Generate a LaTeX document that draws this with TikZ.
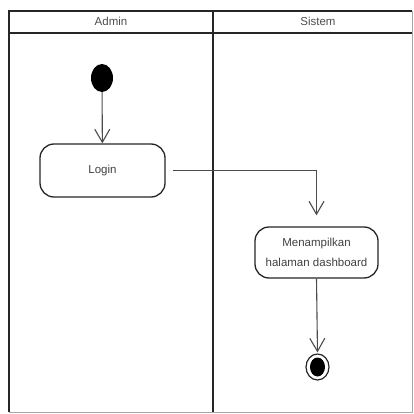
\documentclass[tikz,border=0pt]{standalone}
\usepackage{fontspec}
\setmainfont{Liberation Sans}
\usetikzlibrary{arrows.meta,shapes.geometric}
\begin{document}
\begin{tikzpicture}[x=1pt,y=-1pt,
  frame/.style={line width=1.6pt, black!85},
  act/.style={draw=black!85, line width=1.3pt, rounded corners=14pt, fill=white, align=center, font=\fontsize{11.5}{20}\selectfont, text=black!75, inner sep=0pt},
  conn/.style={draw=black!70, line width=1.1pt, -{Straight Barb[length=13pt,width=15pt,line width=1.1pt]}},
  lane/.style={font=\fontsize{11.5}{14}\selectfont, text=black!70}]
\useasboundingbox (0,0) rectangle (414,414);
% swimlane frame
\draw[frame] (412,11) -- (9,11) -- (9,412);
\draw[line width=1pt, black!35] (9,412.5) -- (412,412.5) -- (412,11);
\draw[frame, line width=2pt] (9,33) -- (412,33);
\draw[frame] (213,11) -- (213,412);
\node[lane] (admin) at (111,21.5) {Admin};
\node[lane] (sistem) at (318,21.5) {Sistem};
% nodes
\node[ellipse, fill=black, minimum width=22pt, minimum height=28pt, inner sep=0pt] (start) at (102,78) {};
\node[act, minimum width=125pt, minimum height=53pt] (login) at (102.5,170.5) {Login};
\node[act, minimum width=123pt, minimum height=51pt] (dash) at (316.5,252.5) {Menampilkan\\halaman dashboard};
\node[ellipse, draw=black!85, line width=1.2pt, fill=white, minimum width=23pt, minimum height=26pt, inner sep=0pt] (end) at (317.5,367) {};
\node[ellipse, fill=black, minimum width=15pt, minimum height=19pt, inner sep=0pt] (endin) at (end.center) {};
% connectors
\draw[conn] (start) -- (login);
\draw[conn, shorten <=7pt, shorten >=11pt] (login.east) -| (dash.north);
\draw[conn, shorten >=1pt] (dash.south) -- (end.north);
\end{tikzpicture}
\end{document}
